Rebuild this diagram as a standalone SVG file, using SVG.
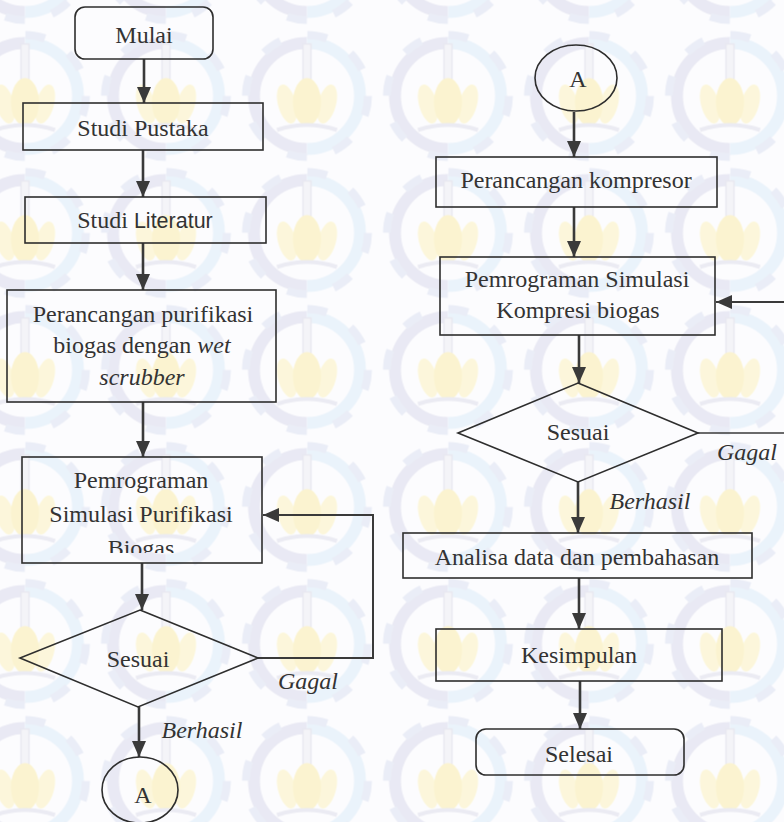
<svg xmlns="http://www.w3.org/2000/svg" width="784" height="822" viewBox="0 0 784 822">
<defs>
<style>
.box{fill:none;stroke:#2e2e2e;stroke-width:1.6}
.conn{fill:none;stroke:#3a3a3a;stroke-width:2.6}
.t{font-family:"Liberation Serif","Times New Roman",serif;font-size:24px;fill:#333;text-anchor:middle}
.i{font-style:italic}
.sans{font-family:"Liberation Sans",Arial,sans-serif;font-size:21.5px}
</style>
<marker id="ah" markerUnits="userSpaceOnUse" markerWidth="16" markerHeight="14" refX="16" refY="7" orient="auto">
<path d="M0,0 L16,7 L0,14 z" fill="#3a3a3a"/>
</marker>
<pattern id="wm" patternUnits="userSpaceOnUse" x="236.5" y="27.5" width="141" height="137">
<g transform="translate(70.5,68.5)" opacity="0.75">
<path d="M0,-53 A53,53 0 0 0 0,53" fill="none" stroke="#e3e3f0" stroke-width="12"/>
<path d="M0,-53 A53,53 0 0 1 0,53" fill="none" stroke="#e5f0fa" stroke-width="12"/>
<circle r="61" fill="none" stroke="#e4e8f4" stroke-width="8" stroke-dasharray="20 27.9"/>
<rect x="-4" y="-52" width="8" height="40" fill="#f2f2f6" stroke="#e2e2ec" stroke-width="1.5"/>
<ellipse cx="-20" cy="8" rx="9" ry="20" fill="#fcf5cf" transform="rotate(-15 -20 8)"/>
<ellipse cx="20" cy="8" rx="9" ry="20" fill="#fcf5cf" transform="rotate(15 20 8)"/>
<ellipse cx="0" cy="6" rx="14" ry="24" fill="#fbf1c0"/>
<path d="M-30,34 Q0,24 30,34" fill="none" stroke="#e6e6ef" stroke-width="4"/>
</g>
</pattern>
<clipPath id="clipBio"><rect x="22" y="457" width="240" height="96"/></clipPath>
</defs>
<rect width="784" height="822" fill="#fcfcfe"/>
<rect width="784" height="822" fill="url(#wm)"/>

<g id="connectors">
<path class="conn" d="M144,59 V103" marker-end="url(#ah)"/>
<path class="conn" d="M143,150 V197" marker-end="url(#ah)"/>
<path class="conn" d="M143,243 V290" marker-end="url(#ah)"/>
<path class="conn" d="M143,402 V457" marker-end="url(#ah)"/>
<path class="conn" d="M142,563 V610" marker-end="url(#ah)"/>
<path class="conn" d="M258,658 H373 V515 H263" marker-end="url(#ah)" style="stroke-width:2"/>
<path class="conn" d="M139,707 V757" marker-end="url(#ah)"/>
<path class="conn" d="M574,112 V157" marker-end="url(#ah)"/>
<path class="conn" d="M574,207 V257" marker-end="url(#ah)"/>
<path class="conn" d="M579,335 V383" marker-end="url(#ah)"/>
<path class="conn" d="M786,302 H716" marker-end="url(#ah)" style="stroke-width:2"/>
<path class="conn" d="M698,433 H786" style="stroke-width:1.6"/>
<path class="conn" d="M578,482 V533" marker-end="url(#ah)"/>
<path class="conn" d="M579,578 V629" marker-end="url(#ah)"/>
<path class="conn" d="M580,681 V729" marker-end="url(#ah)"/>
</g>

<g id="mulai">
<rect class="box" x="75" y="7" width="138" height="52" rx="10"/>
<text class="t" x="144" y="43">Mulai</text>
</g>
<g id="studi-pustaka">
<rect class="box" x="23" y="103" width="240" height="47"/>
<text class="t" x="143" y="136">Studi Pustaka</text>
</g>
<g id="studi-literatur">
<rect class="box" x="25" y="197" width="241" height="46"/>
<text class="t" x="145" y="228">Studi <tspan class="sans">Literatur</tspan></text>
</g>
<g id="perancangan-purifikasi">
<rect class="box" x="7" y="290" width="269" height="112"/>
<text class="t" x="143" y="322">Perancangan purifikasi</text>
<text class="t" x="142" y="353">biogas dengan <tspan class="i">wet</tspan></text>
<text class="t i" x="142" y="385">scrubber</text>
</g>
<g id="pemrograman-purifikasi">
<rect class="box" x="22" y="457" width="240" height="106"/>
<text class="t" x="141" y="488">Pemrograman</text>
<text class="t" x="141" y="522">Simulasi Purifikasi</text>
<text class="t" x="141" y="556" clip-path="url(#clipBio)">Biogas</text>
</g>
<g id="sesuai-1">
<polygon class="box" points="140,610 258,658 138,707 20,658"/>
<text class="t" x="138" y="667">Sesuai</text>
</g>
<g id="labels-1">
<text class="t i" x="308" y="689">Gagal</text>
<text class="t i" x="202" y="738">Berhasil</text>
</g>
<g id="connector-a-out">
<ellipse class="box" cx="140" cy="790" rx="38" ry="33"/>
<text class="t" x="143" y="803">A</text>
</g>

<g id="connector-a-in">
<ellipse class="box" cx="576" cy="78" rx="41" ry="33"/>
<text class="t" x="578" y="87">A</text>
</g>
<g id="perancangan-kompresor">
<rect class="box" x="436" y="157" width="281" height="50"/>
<text class="t" x="576" y="188">Perancangan kompresor</text>
</g>
<g id="pemrograman-kompresi">
<rect class="box" x="440" y="257" width="275" height="78"/>
<text class="t" x="577" y="287">Pemrograman Simulasi</text>
<text class="t" x="578" y="318">Kompresi biogas</text>
</g>
<g id="sesuai-2">
<polygon class="box" points="578,383 698,433 578,482 458,433"/>
<text class="t" x="578" y="440">Sesuai</text>
</g>
<g id="labels-2">
<text class="t i" x="747" y="460">Gagal</text>
<text class="t i" x="650" y="509">Berhasil</text>
</g>
<g id="analisa">
<rect class="box" x="403" y="533" width="349" height="45"/>
<text class="t" x="577" y="565">Analisa data dan pembahasan</text>
</g>
<g id="kesimpulan">
<rect class="box" x="436" y="629" width="286" height="52"/>
<text class="t" x="579" y="663">Kesimpulan</text>
</g>
<g id="selesai">
<rect class="box" x="476" y="729" width="208" height="46" rx="10"/>
<text class="t" x="579" y="762">Selesai</text>
</g>
</svg>
